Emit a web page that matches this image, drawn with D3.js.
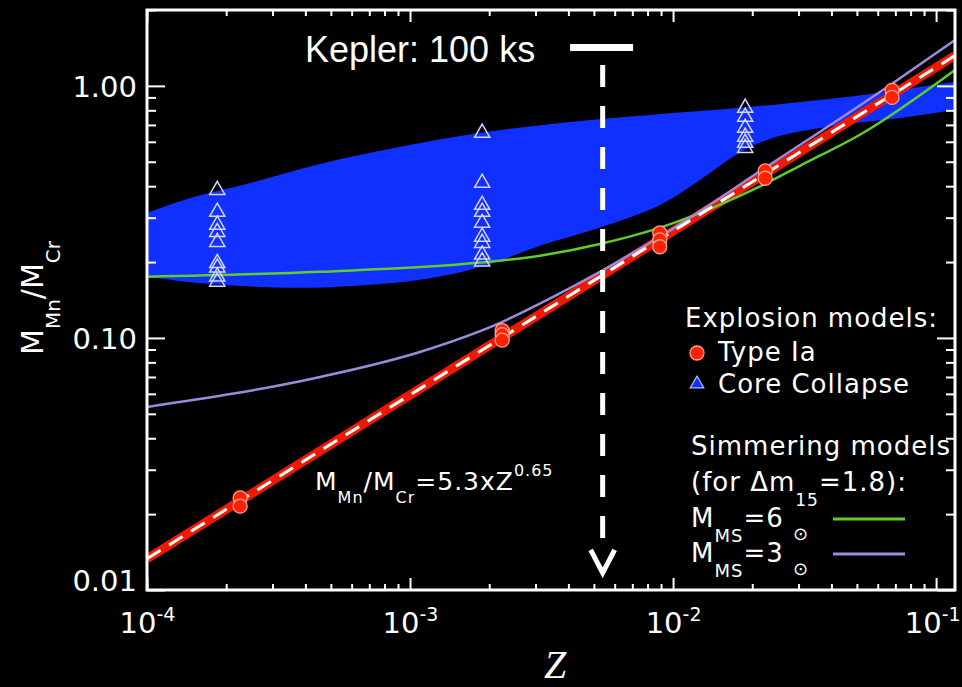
<!DOCTYPE html>
<html>
<head>
<meta charset="utf-8">
<script src="https://cdn.jsdelivr.net/npm/d3@7"></script>
<style>
  body { margin: 0; background: #000; }
  svg { display: block; }
</style>
</head>
<body>
<div id="chart"></div>
<script>
// #Data
// Type Ia explosion models
const iaZ = [2.26e-4, 2.26e-4, 2.24e-3, 2.24e-3, 2.24e-3, 8.9e-3, 8.9e-3, 8.9e-3, 0.0224, 0.0224, 0.068, 0.068];
const iaVal = [0.0232, 0.0215, 0.107, 0.103, 0.098, 0.261, 0.245, 0.230, 0.46, 0.43, 0.96, 0.90];

// Core collapse models
const ccZ = [1.85e-4, 1.85e-4, 1.85e-4, 1.85e-4, 1.85e-4, 1.85e-4, 1.85e-4, 1.85e-4, 1.85e-4,
             1.88e-3, 1.88e-3, 1.88e-3, 1.88e-3, 1.88e-3, 1.88e-3, 1.88e-3, 1.88e-3, 1.88e-3,
             0.0188, 0.0188, 0.0188, 0.0188, 0.0188, 0.0188];
const ccVal = [0.386, 0.316, 0.281, 0.263, 0.240, 0.198, 0.190, 0.175, 0.167,
               0.651, 0.412, 0.337, 0.316, 0.286, 0.252, 0.238, 0.214, 0.201,
               0.818, 0.753, 0.681, 0.628, 0.594, 0.567];

// Blue core collapse band, upper and lower edge
const bandUpZ = [1.0e-4, 1.46e-4, 2.47e-4, 4.55e-4, 9.17e-4, 1.85e-3, 3.72e-3, 8.18e-3, 0.0180, 0.0527, 0.1035, 0.118];
const bandUpVal = [0.313, 0.359, 0.412, 0.490, 0.573, 0.651, 0.713, 0.767, 0.818, 0.921, 1.018, 1.038];
const bandLoZ = [1.0e-4, 1.59e-4, 2.86e-4, 4.97e-4, 1.09e-3, 1.85e-3, 3.12e-3, 5.27e-3, 8.93e-3, 0.0127, 0.0180, 0.0244, 0.0395, 0.0729, 0.118];
const bandLoVal = [0.175, 0.165, 0.159, 0.159, 0.170, 0.191, 0.232, 0.274, 0.337, 0.424, 0.545, 0.625, 0.690, 0.746, 0.803];

// Fit M_Mn/M_Cr = 5.3 x Z^0.65 (end points)
const fitZ = [1.0e-4, 0.118];
const fitVal = [0.0133, 1.32];

// Simmering models
const ms6Z = [1.0e-4, 4.55e-4, 1.85e-3, 3.12e-3, 5.27e-3, 8.93e-3, 0.0151, 0.0220, 0.0304, 0.0527, 0.118];
const ms6Val = [0.175, 0.183, 0.199, 0.212, 0.236, 0.274, 0.338, 0.405, 0.482, 0.650, 1.156];
const ms3Z = [1.0e-4, 4.55e-4, 1.09e-3, 2.20e-3, 3.50e-3, 5.27e-3, 8.93e-3, 0.0224, 0.068, 0.118];
const ms3Val = [0.0532, 0.070, 0.088, 0.1148, 0.1456, 0.183, 0.252, 0.473, 1.02, 1.52];

// Kepler 100 ks marker
const keplerZ = 0.0054;
const keplerBarZ = [4.06e-3, 7.05e-3];
const keplerBarVal = 1.42;
const keplerDash = [1.21, 0.0147];
const keplerTip = 0.0117;

// Axis ticks
const xMajor = [1e-4, 1e-3, 1e-2, 1e-1];
const yMajor = [0.01, 0.1, 1];

// #Set SVG dimensions
const w = 962;
const h = 687;
const pLeft = 147, pRight = 955, pTop = 10, pBottom = 590;
const sans = 'DejaVu Sans, sans-serif';

const svg = d3.select('#chart')
              .append('svg')
              .attr('width', w)
              .attr('height', h)
              .style('background', '#000');

// #Scales
const x = d3.scaleLog().domain([1e-4, 0.118]).range([pLeft, pRight]);
const y = d3.scaleLog().domain([0.01, 2.0]).range([pBottom, pTop]);

const isPow10 = d => Math.abs(Math.log10(d) - Math.round(Math.log10(d))) < 1e-6;
const xMinor = x.ticks().filter(d => !isPow10(d));
const yMinor = y.ticks().filter(d => !isPow10(d));

svg.append('clipPath')
   .attr('id', 'plot-clip')
   .append('rect')
   .attr('x', pLeft)
   .attr('y', pTop)
   .attr('width', pRight - pLeft)
   .attr('height', pBottom - pTop);

const plot = svg.append('g').attr('clip-path', 'url(#plot-clip)');

// #Blue band
const edge = d3.line().x(d => x(d[0])).y(d => y(d[1])).curve(d3.curveCatmullRom);
const up = bandUpZ.map((z, i) => [z, bandUpVal[i]]);
const lo = bandLoZ.map((z, i) => [z, bandLoVal[i]]).reverse();
plot.append('path')
    .attr('d', edge(up) + edge(lo).replace(/^M/, 'L') + 'Z')
    .attr('fill', '#1030ff');

// #Lines
const line = d3.line().x(d => x(d[0])).y(d => y(d[1])).curve(d3.curveMonotoneX);
const fit = fitZ.map((z, i) => [z, fitVal[i]]);

plot.append('path')
    .attr('d', line(fit))
    .attr('fill', 'none')
    .attr('stroke', '#f01800')
    .attr('stroke-width', 9);

plot.append('path')
    .attr('d', line(ms6Z.map((z, i) => [z, ms6Val[i]])))
    .attr('fill', 'none')
    .attr('stroke', '#5fcc2c')
    .attr('stroke-width', 2.5);

plot.append('path')
    .attr('d', line(ms3Z.map((z, i) => [z, ms3Val[i]])))
    .attr('fill', 'none')
    .attr('stroke', '#9d8ad8')
    .attr('stroke-width', 2.5);

plot.append('path')
    .attr('d', line(fit))
    .attr('fill', 'none')
    .attr('stroke', '#ffffff')
    .attr('stroke-width', 3)
    .attr('stroke-dasharray', '16,10');

// #Core collapse triangles
const tri = d3.symbol().type(d3.symbolTriangle).size(100);
plot.selectAll('.cc')
    .data(ccZ)
    .enter()
    .append('path')
    .attr('class', 'cc')
    .attr('d', tri)
    .attr('transform', (d, i) => 'translate(' + x(d) + ',' + y(ccVal[i]) + ')')
    .attr('fill', 'none')
    .attr('stroke', '#d4d4ff')
    .attr('stroke-width', 1.5);

// #Type Ia circles
plot.selectAll('.ia')
    .data(iaZ)
    .enter()
    .append('circle')
    .attr('class', 'ia')
    .attr('cx', d => x(d))
    .attr('cy', (d, i) => y(iaVal[i]))
    .attr('r', 7)
    .attr('fill', '#ff2200')
    .attr('stroke', '#ffa090')
    .attr('stroke-width', 1.3);

// #Kepler marker
const kx = x(keplerZ);
svg.append('line')
   .attr('x1', x(keplerBarZ[0]))
   .attr('x2', x(keplerBarZ[1]))
   .attr('y1', y(keplerBarVal))
   .attr('y2', y(keplerBarVal))
   .attr('stroke', '#fff')
   .attr('stroke-width', 7);

svg.append('line')
   .attr('x1', kx)
   .attr('x2', kx)
   .attr('y1', y(keplerDash[0]))
   .attr('y2', y(keplerDash[1]))
   .attr('stroke', '#fff')
   .attr('stroke-width', 5)
   .attr('stroke-dasharray', '22,19');

svg.append('path')
   .attr('d', 'M' + (kx - 12) + ',' + (y(keplerTip) - 23) + 'L' + kx + ',' + y(keplerTip) + 'L' + (kx + 12) + ',' + (y(keplerTip) - 23))
   .attr('fill', 'none')
   .attr('stroke', '#fff')
   .attr('stroke-width', 5);

svg.append('text')
   .attr('x', 305)
   .attr('y', 62)
   .attr('font-family', 'Liberation Sans, Arial, sans-serif')
   .attr('font-size', 36)
   .attr('fill', '#fff')
   .text('Kepler: 100 ks');

// #Axes
const styleAxis = g => {
  g.select('.domain').remove();
  g.selectAll('.tick line').attr('stroke', '#fff').attr('stroke-width', 2);
};

svg.append('g')
   .attr('transform', 'translate(0,' + pBottom + ')')
   .call(d3.axisBottom(x).tickValues(xMinor).tickSize(-6).tickFormat(''))
   .call(styleAxis);

svg.append('g')
   .attr('transform', 'translate(0,' + pTop + ')')
   .call(d3.axisTop(x).tickValues(xMinor).tickSize(-6).tickFormat(''))
   .call(styleAxis);

svg.append('g')
   .attr('transform', 'translate(0,' + pTop + ')')
   .call(d3.axisTop(x).tickValues(xMajor).tickSize(-12).tickFormat(''))
   .call(styleAxis);

svg.append('g')
   .attr('transform', 'translate(0,' + pBottom + ')')
   .call(d3.axisBottom(x).tickValues(xMajor).tickSize(-12))
   .attr('font-family', sans)
   .attr('font-size', 29)
   .call(styleAxis)
   .call(g => g.selectAll('.tick text')
     .attr('fill', '#fff')
     .attr('y', 43)
     .attr('dy', null)
     .text('')
     .each(function (d) {
       const t = d3.select(this);
       // last label sits at the right edge of the page
       if (d === 0.1) t.attr('text-anchor', 'end').attr('x', 24);
       t.append('tspan').text('10');
       t.append('tspan').attr('dy', -12).attr('font-size', 19).text(Math.round(Math.log10(d)));
     }));

svg.append('g')
   .attr('transform', 'translate(' + pLeft + ',0)')
   .call(d3.axisLeft(y).tickValues(yMinor).tickSize(-9).tickFormat(''))
   .call(styleAxis);

svg.append('g')
   .attr('transform', 'translate(' + pRight + ',0)')
   .call(d3.axisRight(y).tickValues(yMinor).tickSize(-9).tickFormat(''))
   .call(styleAxis);

svg.append('g')
   .attr('transform', 'translate(' + pRight + ',0)')
   .call(d3.axisRight(y).tickValues(yMajor).tickSize(-18).tickFormat(''))
   .call(styleAxis);

svg.append('g')
   .attr('transform', 'translate(' + pLeft + ',0)')
   .call(d3.axisLeft(y).tickValues(yMajor).tickSize(-18).tickFormat(d3.format('.2f')))
   .attr('font-family', sans)
   .attr('font-size', 29)
   .call(styleAxis)
   .call(g => g.selectAll('.tick text')
     .attr('fill', '#fff')
     .attr('x', -10)
     .attr('dy', d => d === 0.01 ? '0em' : '0.35em'));

svg.append('rect')
   .attr('x', pLeft)
   .attr('y', pTop)
   .attr('width', pRight - pLeft)
   .attr('height', pBottom - pTop)
   .attr('fill', 'none')
   .attr('stroke', '#fff')
   .attr('stroke-width', 3);

// #Axis titles
const yTitle = svg.append('text')
                  .attr('transform', 'translate(43,298) rotate(-90)')
                  .attr('text-anchor', 'middle')
                  .attr('font-family', sans)
                  .attr('font-size', 30)
                  .attr('fill', '#fff');
yTitle.append('tspan').text('M');
yTitle.append('tspan').attr('dy', 17).attr('font-size', 20).text('Mn');
yTitle.append('tspan').attr('dy', -17).text('/M');
yTitle.append('tspan').attr('dy', 17).attr('font-size', 20).text('Cr');

svg.append('text')
   .attr('x', 555)
   .attr('y', 678)
   .attr('text-anchor', 'middle')
   .attr('font-family', 'Liberation Serif, Times New Roman, serif')
   .attr('font-style', 'italic')
   .attr('font-size', 40)
   .attr('fill', '#fff')
   .text('Z');

// #Fit formula
const formula = svg.append('text')
                   .attr('x', 315)
                   .attr('y', 490)
                   .attr('font-family', sans)
                   .attr('font-size', 25)
                   .attr('letter-spacing', 1)
                   .attr('fill', '#fff');
formula.append('tspan').text('M');
formula.append('tspan').attr('dy', 13).attr('font-size', 16).text('Mn');
formula.append('tspan').attr('dy', -13).text('/M');
formula.append('tspan').attr('dy', 13).attr('font-size', 16).text('Cr');
formula.append('tspan').attr('dy', -13).text('=5.3xZ');
formula.append('tspan').attr('dy', -14).attr('font-size', 16).text('0.65');

// #Legend
const legend = svg.append('g')
                  .attr('font-family', sans)
                  .attr('font-size', 26)
                  .attr('letter-spacing', 1)
                  .attr('fill', '#fff');

legend.append('text').attr('x', 685).attr('y', 327).text('Explosion models:');
legend.append('circle')
      .attr('cx', 697)
      .attr('cy', 353)
      .attr('r', 7)
      .attr('fill', '#ff2200')
      .attr('stroke', '#ffa090')
      .attr('stroke-width', 1.3);
legend.append('text').attr('x', 718).attr('y', 361).text('Type Ia');
legend.append('path')
      .attr('d', d3.symbol().type(d3.symbolTriangle).size(80)())
      .attr('transform', 'translate(697,384)')
      .attr('fill', '#1030ff')
      .attr('stroke', '#b0b8ff')
      .attr('stroke-width', 1.2);
legend.append('text').attr('x', 718).attr('y', 393).text('Core Collapse');

legend.append('text').attr('x', 691).attr('y', 455).text('Simmering models');
const dm = legend.append('text').attr('x', 691).attr('y', 491);
dm.append('tspan').text('(for \u0394m');
dm.append('tspan').attr('dy', 15).attr('font-size', 17).text('15');
dm.append('tspan').attr('dy', -15).text('=1.8):');

const msRows = [{val: '6', y: 527, color: '#5fcc2c'}, {val: '3', y: 562, color: '#9d8ad8'}];
msRows.forEach(r => {
  const t = legend.append('text').attr('x', 691).attr('y', r.y);
  t.append('tspan').text('M');
  t.append('tspan').attr('dy', 15).attr('font-size', 18).text('MS');
  t.append('tspan').attr('dy', -15).text('=' + r.val + ' ');
  t.append('tspan').attr('dy', 13).attr('font-size', 18).text('\u2299');
  legend.append('line')
        .attr('x1', 833)
        .attr('x2', 905)
        .attr('y1', r.y - 8)
        .attr('y2', r.y - 8)
        .attr('stroke', r.color)
        .attr('stroke-width', 3);
});
</script>
</body>
</html>
